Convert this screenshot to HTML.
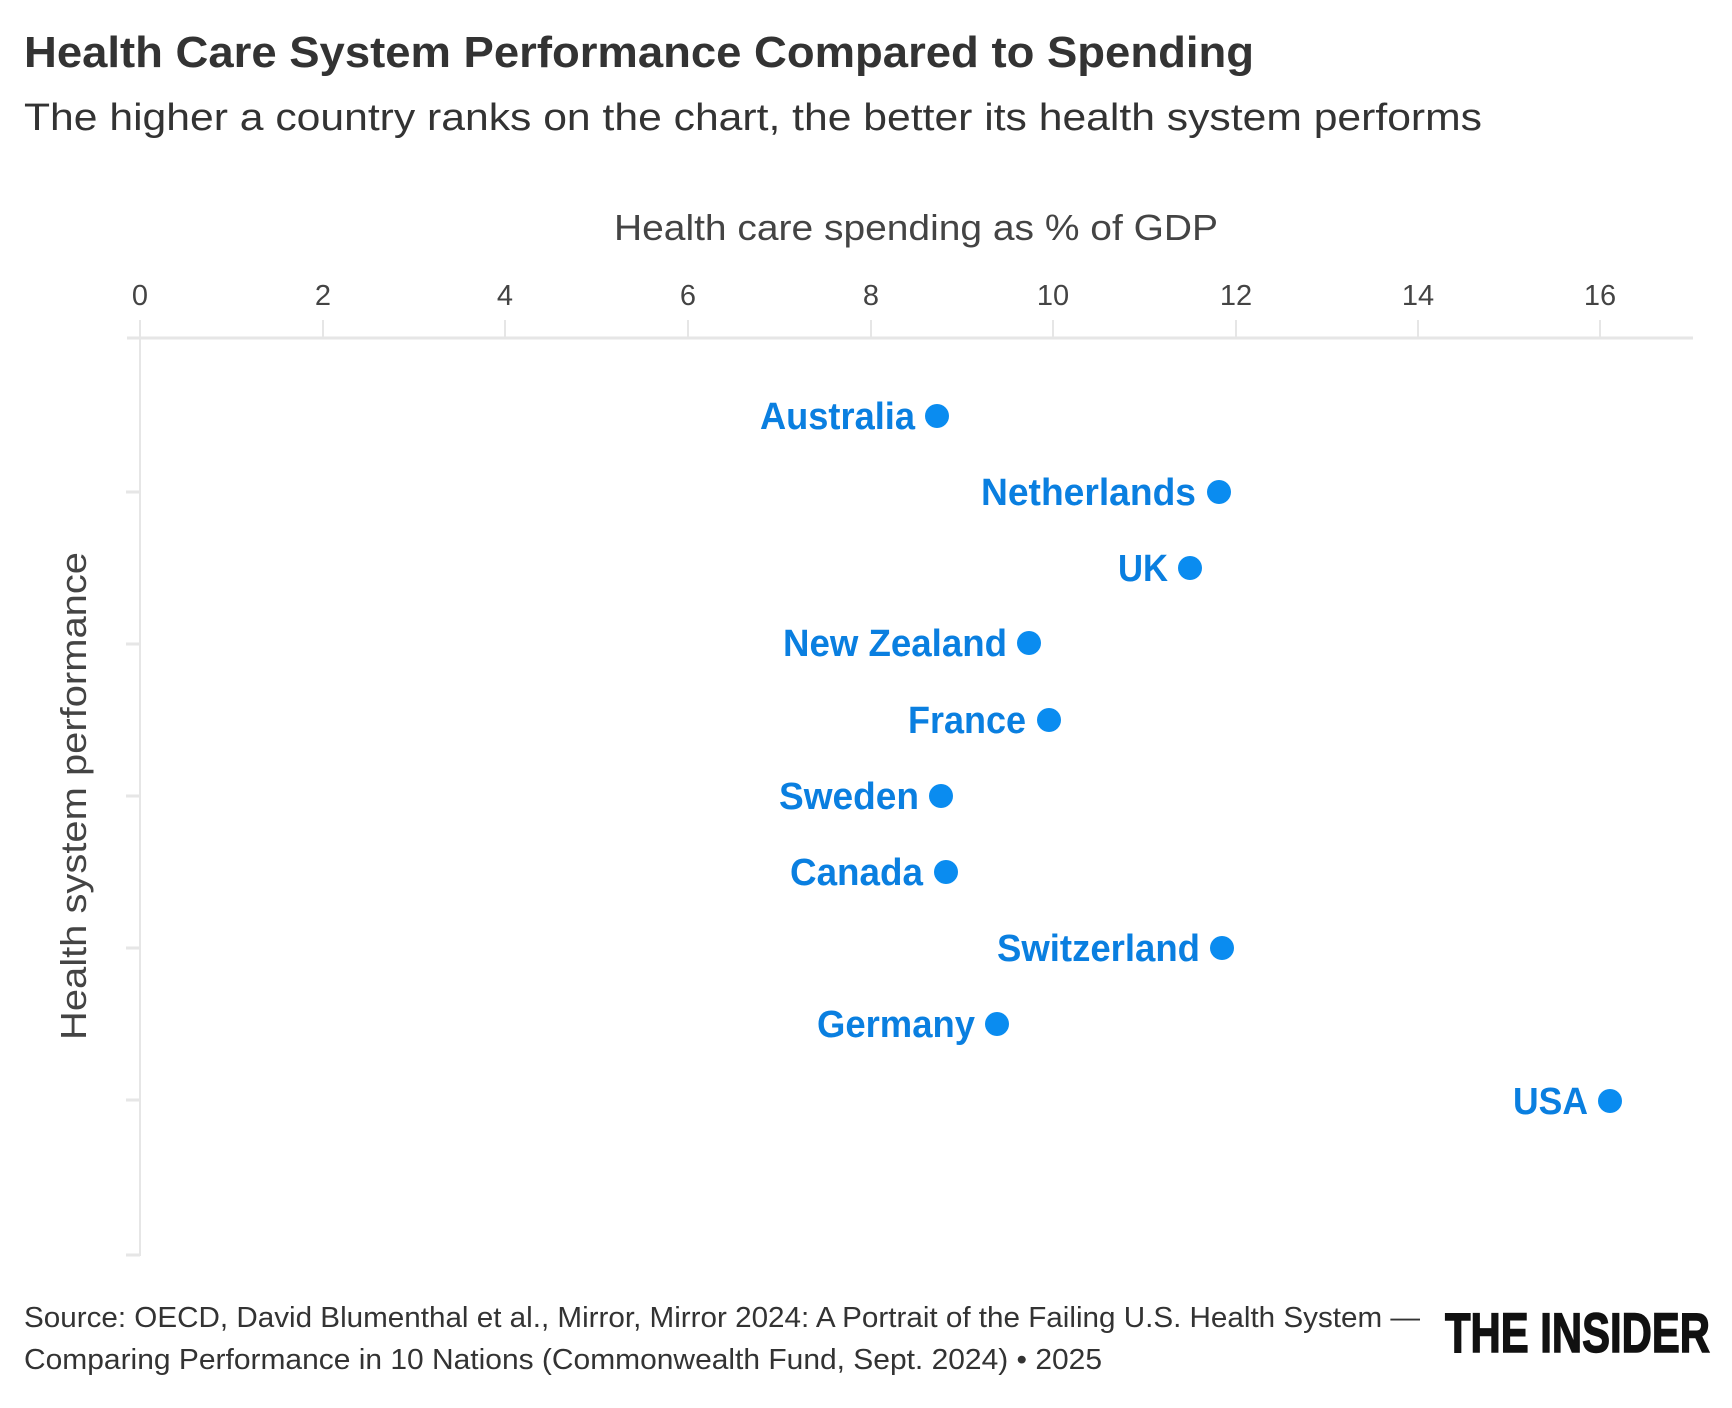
<!DOCTYPE html>
<html><head><style>html,body{margin:0;padding:0;background:#fff}</style></head><body>
<svg width="1732" height="1403" viewBox="0 0 1732 1403" xmlns="http://www.w3.org/2000/svg" font-family="Liberation Sans, sans-serif">
<rect width="1732" height="1403" fill="#fff"/>
<text x="24" y="67" font-size="44" font-weight="bold" fill="#333" textLength="1230" lengthAdjust="spacingAndGlyphs">Health Care System Performance Compared to Spending</text>
<text x="24" y="130" font-size="38" fill="#333" textLength="1458" lengthAdjust="spacingAndGlyphs">The higher a country ranks on the chart, the better its health system performs</text>
<text x="614" y="240" font-size="36" fill="#444" textLength="604" lengthAdjust="spacingAndGlyphs">Health care spending as % of GDP</text>
<g font-size="29" fill="#444" text-anchor="middle">
<text x="140" y="305">0</text><text x="323" y="305">2</text><text x="505" y="305">4</text><text x="688" y="305">6</text><text x="871" y="305">8</text><text x="1053" y="305">10</text><text x="1236" y="305">12</text><text x="1418" y="305">14</text><text x="1600" y="305">16</text>
</g>
<g stroke="#e6e6e6" stroke-width="2">
<line x1="127" y1="338" x2="1693" y2="338" stroke-width="3"/>
<line x1="140" y1="338" x2="140" y2="1256"/>
<line x1="140" y1="320" x2="140" y2="338"/><line x1="323" y1="320" x2="323" y2="338"/><line x1="505" y1="320" x2="505" y2="338"/><line x1="688" y1="320" x2="688" y2="338"/><line x1="871" y1="320" x2="871" y2="338"/><line x1="1053" y1="320" x2="1053" y2="338"/><line x1="1236" y1="320" x2="1236" y2="338"/><line x1="1418" y1="320" x2="1418" y2="338"/><line x1="1600" y1="320" x2="1600" y2="338"/>
<line x1="126" y1="492" x2="140" y2="492" stroke-width="3"/><line x1="126" y1="644" x2="140" y2="644" stroke-width="3"/><line x1="126" y1="796" x2="140" y2="796" stroke-width="3"/><line x1="126" y1="948" x2="140" y2="948" stroke-width="3"/><line x1="126" y1="1100" x2="140" y2="1100" stroke-width="3"/><line x1="126" y1="1255" x2="140" y2="1255" stroke-width="3"/>
</g>
<text transform="translate(86,796) rotate(-90)" font-size="36" fill="#444" text-anchor="middle" textLength="488" lengthAdjust="spacingAndGlyphs">Health system performance</text>
<g fill="#0a8cf0">
<circle cx="937" cy="416" r="12"/><circle cx="1219" cy="492" r="12"/><circle cx="1190" cy="568" r="12"/><circle cx="1029" cy="643" r="12"/><circle cx="1049" cy="720" r="12"/><circle cx="941" cy="796" r="12"/><circle cx="946" cy="872" r="12"/><circle cx="1222" cy="948" r="12"/><circle cx="997" cy="1024" r="12"/><circle cx="1610" cy="1101" r="12"/>
</g>
<g fill="#0a7fe0" font-size="38" font-weight="bold" text-anchor="end" lengthAdjust="spacingAndGlyphs">
<text x="915" y="429" textLength="155" lengthAdjust="spacingAndGlyphs">Australia</text>
<text x="1196" y="505" textLength="215" lengthAdjust="spacingAndGlyphs">Netherlands</text>
<text x="1168" y="581" textLength="50" lengthAdjust="spacingAndGlyphs">UK</text>
<text x="1007" y="656" textLength="224" lengthAdjust="spacingAndGlyphs">New Zealand</text>
<text x="1026" y="733" textLength="118" lengthAdjust="spacingAndGlyphs">France</text>
<text x="919" y="809" textLength="140" lengthAdjust="spacingAndGlyphs">Sweden</text>
<text x="923" y="885" textLength="133" lengthAdjust="spacingAndGlyphs">Canada</text>
<text x="1200" y="961" textLength="203" lengthAdjust="spacingAndGlyphs">Switzerland</text>
<text x="975" y="1037" textLength="158" lengthAdjust="spacingAndGlyphs">Germany</text>
<text x="1588" y="1114" textLength="75" lengthAdjust="spacingAndGlyphs">USA</text>
</g>
<text x="24" y="1327" font-size="29" fill="#333" textLength="1396" lengthAdjust="spacingAndGlyphs">Source: OECD, David Blumenthal et al., Mirror, Mirror 2024: A Portrait of the Failing U.S. Health System —</text>
<text x="24" y="1369" font-size="29" fill="#333" textLength="1078" lengthAdjust="spacingAndGlyphs">Comparing Performance in 10 Nations (Commonwealth Fund, Sept. 2024) • 2025</text>
<text x="1445" y="1352" font-size="56" font-weight="bold" fill="#111" textLength="265" lengthAdjust="spacingAndGlyphs" stroke="#111" stroke-width="1.5">THE INSIDER</text>
</svg>
</body></html>
